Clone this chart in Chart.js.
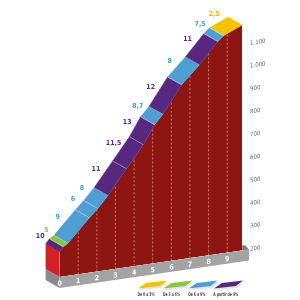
<!DOCTYPE html>
<html><head><meta charset="utf-8">
<script src="https://cdn.jsdelivr.net/npm/chart.js@4.4.1/dist/chart.umd.min.js"></script>
<style>html,body{margin:0;padding:0;background:#fff;}#wrap{width:300px;height:300px;position:relative;}</style>
</head><body><div id="wrap"><canvas id="c" width="300" height="300"></canvas></div>
<script>
// ---- data ----
const distKm   = [0, 0.2, 0.45, 1.6, 2.05, 2.6, 3.6, 4.5, 5.1, 5.55, 6.55, 7.5, 8.5, 8.8, 9.8];
const elevM    = [310, 330, 342, 440, 475, 525, 630, 725, 805, 845, 962, 1038, 1128, 1150, 1185];
const gradePct = [10, 5, 9, 6, 8, 11, 11.5, 13, 8.7, 12, 8, 11, 7.5, 2.5];
const kmTicks  = [0, 1, 2, 3, 4, 5, 6, 7, 8, 9];
const elevTicks = [200, 300, 400, 500, 600, 700, 800, 900, 1000, 1100];
const legendLabels = ["De 0 a 3%", "De 3 a 6%", "De 6 a 9%", "A partir de 9%"];
const classColors = ['#f4c300', '#8cc540', '#4f9fd5', '#56287f'];
const labelColors = ['#efb400', '#8cc540', '#4a9bd2', '#5a2c85'];

// ---- style constants ----
const SKEW = -0.145, DX = -14, DY = -10, BASE_H = 11, Y_MAX = 1200;
const FONT = "'Liberation Sans Narrow','DejaVu Sans Condensed','Liberation Sans',sans-serif";

function gradeClass(g){ return g < 3 ? 0 : g < 6 ? 1 : g <= 9 ? 2 : 3; }
function fmtElev(v){ return v >= 1000 ? Math.floor(v/1000) + '.' + String(v%1000).padStart(3,'0') : String(v); }
function fmtGrade(g){ return String(g).replace('.', ','); }
function poly(ctx, p){ ctx.beginPath(); ctx.moveTo(p[0][0], p[0][1]); for (let i=1;i<p.length;i++) ctx.lineTo(p[i][0], p[i][1]); ctx.closePath(); }
function profilePts(chart){ const x=chart.scales.x, y=chart.scales.y; return distKm.map((d,i)=>[x.getPixelForValue(d), y.getPixelForValue(elevM[i])]); }
function toScreen(p){ return [p[0], p[1] + SKEW*p[0]]; }

const climb3d = {
  id: 'climb3d',
  beforeDraw(chart){
    const ctx = chart.ctx; ctx.save(); ctx.transform(1, SKEW, 0, 1, 0, 0);
    const x = chart.scales.x, y = chart.scales.y;
    const yb = y.getPixelForValue(elevTicks[0]);
    const xl = x.getPixelForValue(distKm[0]), xr = x.getPixelForValue(distKm[distKm.length-1]);
    ctx.fillStyle = '#8b8b8b';
    poly(ctx, [[xl,yb],[xl,yb+BASE_H],[xl+DX,yb+BASE_H+DY],[xl+DX,yb+DY]]); ctx.fill();
    ctx.fillStyle = '#7a7a7a';
    poly(ctx, [[xr,yb],[xr+7,yb],[xr+3,yb-5],[xr,yb-5]]); ctx.fill();
    ctx.fillStyle = '#a3a3a3'; ctx.fillRect(xl, yb, xr+7-xl, BASE_H);
  },
  afterDatasetsDraw(chart){
    const ctx = chart.ctx, x = chart.scales.x, y = chart.scales.y;
    const P = profilePts(chart);
    const yb = y.getPixelForValue(elevTicks[0]);
    const xl = P[0][0], xr = P[P.length-1][0];
    ctx.save();
    poly(ctx, P.concat([[xr,yb],[xl,yb]])); ctx.clip();
    ctx.strokeStyle = 'rgba(255,205,195,0.6)'; ctx.lineWidth = 0.8; ctx.setLineDash([2.2,1.8]);
    kmTicks.forEach(k=>{ if (k===0) return; const px = x.getPixelForValue(k); ctx.beginPath(); ctx.moveTo(px, yb); ctx.lineTo(px, 0); ctx.stroke(); });
    ctx.restore();
    ctx.fillStyle = '#d51f26';
    poly(ctx, [[xl,yb],[xl,P[0][1]],[xl+DX,P[0][1]+DY],[xl+DX,yb+DY]]); ctx.fill();
    for (let i=0;i<gradePct.length;i++){
      const a = P[i], b = P[i+1];
      ctx.fillStyle = classColors[gradeClass(gradePct[i])];
      poly(ctx, [a, b, [b[0]+DX,b[1]+DY], [a[0]+DX,a[1]+DY]]); ctx.fill();
      ctx.strokeStyle = classColors[gradeClass(gradePct[i])]; ctx.lineWidth = 0.4; ctx.stroke();
    }
    ctx.strokeStyle = 'rgba(255,255,255,0.55)'; ctx.lineWidth = 0.6;
    for (let i=1;i<gradePct.length;i++){
      const a = P[i];
      ctx.beginPath(); ctx.moveTo(a[0],a[1]); ctx.lineTo(a[0]+DX,a[1]+DY); ctx.stroke();
    }
  },
  afterDraw(chart){
    const ctx = chart.ctx; ctx.restore();
    const P = profilePts(chart);
    ctx.font = 'bold 7px ' + FONT; ctx.textAlign = 'center'; ctx.textBaseline = 'middle';
    for (let i=0;i<gradePct.length;i++){
      const a = toScreen([P[i][0]+DX, P[i][1]+DY]), b = toScreen([P[i+1][0]+DX, P[i+1][1]+DY]);
      let dx = b[0]-a[0], dy = b[1]-a[1]; const L = Math.hypot(dx,dy) || 1; dx/=L; dy/=L;
      const mx = (a[0]+b[0])/2 + dy*9, my = (a[1]+b[1])/2 - dx*9;
      ctx.fillStyle = labelColors[gradeClass(gradePct[i])];
      ctx.fillText(fmtGrade(gradePct[i]), mx, my);
    }
    const legCenters = [146, 171.5, 196.7, 225.7], legWidths = [17, 17, 17, 25];
    legendLabels.forEach((t,i)=>{
      const x0 = 138 + i*25.3, yB = 288.5;
      ctx.fillStyle = '#e2e2e2';
      poly(ctx, [[x0+1,yB+1.5],[x0+9,yB-4],[x0+30,yB-6.5],[x0+23,yB-0.5]]); ctx.fill();
      ctx.fillStyle = classColors[i];
      poly(ctx, [[x0,yB],[x0+8,yB-5.5],[x0+29,yB-8],[x0+22,yB-2.5]]); ctx.fill();
      ctx.fillStyle = '#444'; ctx.font = 'bold 5px ' + FONT; ctx.textAlign = 'center'; ctx.textBaseline = 'middle';
      ctx.fillText(t, legCenters[i], 294.5, legWidths[i]);
    });
  }
};

new Chart(document.getElementById('c'), {
  type: 'line',
  data: { datasets: [{
    data: distKm.map((d,i)=>({x:d, y:elevM[i]})),
    fill: 'start', backgroundColor: '#8e1612', borderWidth: 0, pointRadius: 0, tension: 0, clip: false
  }]},
  options: {
    responsive: false, devicePixelRatio: 1, animation: false, events: [],
    layout: { padding: { left: 59.6, right: 27.9, top: 56.7, bottom: 0 } },
    plugins: { legend: { display: false }, tooltip: { enabled: false } },
    scales: {
      x: { type: 'linear', min: distKm[0], max: distKm[distKm.length-1],
        grid: { display: false, drawTicks: false }, border: { display: false },
        afterBuildTicks: s => { s.ticks = kmTicks.map(v=>({value:v})); },
        afterFit: s => { s.height = 14.3; },
        ticks: { color: '#ffffff', font: { size: 7, weight: 'bold', family: FONT }, padding: 2.5, maxRotation: 0, autoSkip: false, callback: v => String(v) } },
      y: { type: 'linear', position: 'right', min: elevTicks[0], max: Y_MAX,
        grid: { display: false, drawTicks: false }, border: { display: false },
        afterBuildTicks: s => { s.ticks = elevTicks.map(v=>({value:v})); },
        afterFit: s => { s.width = 30; },
        ticks: { color: '#666', font: { size: 6, family: FONT }, padding: 8, callback: v => fmtElev(v) } }
    }
  },
  plugins: [climb3d]
});
</script></body></html>
